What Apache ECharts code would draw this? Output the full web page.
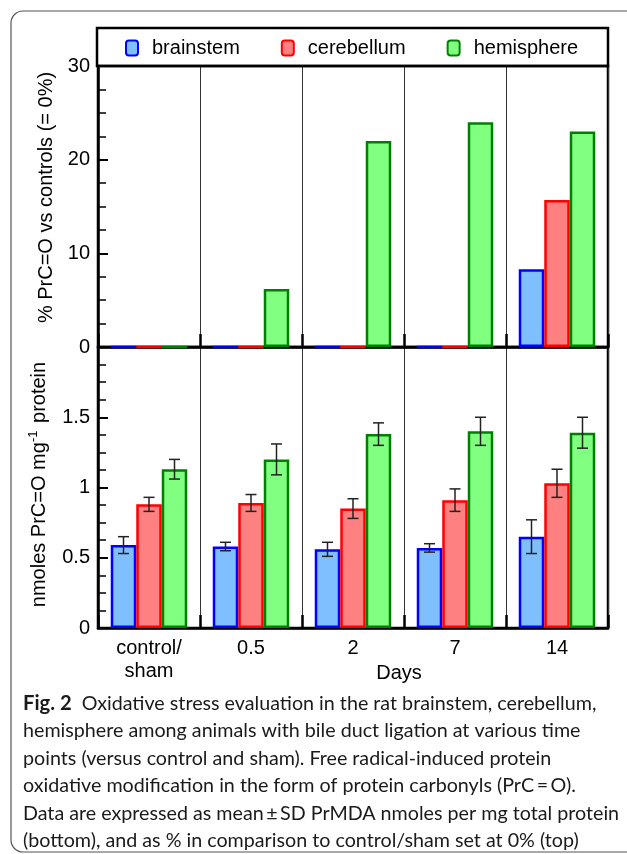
<!DOCTYPE html>
<html>
<head>
<meta charset="utf-8">
<script src="https://cdn.jsdelivr.net/npm/echarts@6/dist/echarts.min.js"></script>
<style>html,body{margin:0;padding:0;background:#fff;}#c{width:627px;height:854px;}</style>
</head>
<body>
<div id="c"></div>
<script>
// ---- data ----
var categories = ['control/\nsham', '0.5', '2', '7', '14'];
var seriesNames = ['brainstem', 'cerebellum', 'hemisphere'];
// top panel: % vs controls
var pctBrainstem  = [0, 0, 0, 0, 8.3];
var pctCerebellum = [0, 0, 0, 0, 15.7];
var pctHemisphere = [0, 6.2, 22.0, 24.0, 23.0];
// bottom panel: nmoles PrC=O per mg protein (mean, SD)
var nmolBrainstem  = [0.59, 0.58, 0.56, 0.57, 0.65];
var nmolCerebellum = [0.88, 0.89, 0.85, 0.91, 1.03];
var nmolHemisphere = [1.13, 1.20, 1.38, 1.40, 1.39];
var sdBrainstem  = [0.06, 0.03, 0.05, 0.03, 0.12];
var sdCerebellum = [0.05, 0.06, 0.07, 0.08, 0.10];
var sdHemisphere = [0.07, 0.11, 0.08, 0.10, 0.11];
var topTicks = [0, 10, 20, 30];
var bottomTicks = [0, 0.5, 1, 1.5, 2];

var captionLines = [
  '{b|Fig. 2}  Oxidative stress evaluation in the rat brainstem, cerebellum,',
  'hemisphere among animals with bile duct ligation at various time',
  'points (versus control and sham). Free radical-induced protein',
  'oxidative modification in the form of protein carbonyls (PrC\u2009=\u2009O).',
  'Data are expressed as mean\u2009\u00b1\u2009SD PrMDA nmoles per mg total protein',
  '(bottom), and as % in comparison to control/sham set at 0% (top)'
];

// ---- styles ----
var FONT = 'Liberation Sans';
var CAPFONT = 'Lato';
var CAPSIZE = 19.7;
var fills = ['#80bfff', '#ff8080', '#80ff80'];
var borders = ['#0000ff', '#ff0000', '#008000'];

var chart = echarts.init(document.getElementById('c'), null, {renderer: 'canvas'});

function xAxisCfg(gi, showLabel) {
  return {
    type: 'category', gridIndex: gi, data: categories,
    axisLine: {show: true, lineStyle: {color: '#000', width: 2.5}},
    axisTick: {show: true, inside: true, length: 13, lineStyle: {color: '#000', width: 2.5}},
    axisLabel: {show: showLabel, fontSize: 20, color: '#000', fontFamily: FONT, margin: 9, lineHeight: 23},
    splitLine: {show: true, lineStyle: {color: '#333', width: 1}}
  };
}
function yAxisCfg(gi, ticks, name, nameStyle, showMax) {
  return {
    type: 'value', gridIndex: gi,
    min: ticks[0], max: ticks[ticks.length - 1], interval: ticks[1] - ticks[0],
    axisLine: {show: true, lineStyle: {color: '#000', width: 2.5}},
    axisTick: {show: true, inside: true, length: 10, lineStyle: {color: '#000', width: 2}},
    minorTick: {show: true, splitNumber: 4, length: 8, lineStyle: {color: '#000', width: 1.5}},
    splitLine: {show: false},
    axisLabel: {fontSize: 20, color: '#000', fontFamily: FONT, margin: 8, showMaxLabel: showMax},
    name: name, nameLocation: 'middle', nameGap: 34,
    nameTextStyle: nameStyle
  };
}

var pctData = [pctBrainstem, pctCerebellum, pctHemisphere];
var nmolData = [nmolBrainstem, nmolCerebellum, nmolHemisphere];
var sdData = [sdBrainstem, sdCerebellum, sdHemisphere];

var series = [];
for (var k = 0; k < 3; k++) {
  series.push({
    type: 'bar', name: seriesNames[k], barWidth: '25%', barGap: '0%',
    xAxisIndex: 0, yAxisIndex: 0, data: pctData[k],
    itemStyle: {color: fills[k], borderColor: borders[k], borderWidth: 2.5},
    emphasis: {disabled: true}
  });
}
for (var k2 = 0; k2 < 3; k2++) {
  series.push({
    type: 'bar', name: seriesNames[k2], barWidth: '25%', barGap: '0%',
    xAxisIndex: 1, yAxisIndex: 1, data: nmolData[k2],
    itemStyle: {color: fills[k2], borderColor: borders[k2], borderWidth: 2.5},
    emphasis: {disabled: true}
  });
}
// error bars
var errData = [];
for (var s = 0; s < 3; s++) {
  for (var i = 0; i < categories.length; i++) {
    errData.push([i, nmolData[s][i] - sdData[s][i], nmolData[s][i] + sdData[s][i], s]);
  }
}
series.push({
  type: 'custom', name: 'err', xAxisIndex: 1, yAxisIndex: 1, z: 5,
  data: errData, encode: {x: 0, y: [1, 2]}, silent: true,
  renderItem: function (params, api) {
    var cat = api.value(0);
    var band = api.size([1, 0])[0];
    var x = api.coord([cat, 0])[0] + (api.value(3) - 1) * band * 0.25;
    var yl = api.coord([cat, api.value(1)])[1];
    var yh = api.coord([cat, api.value(2)])[1];
    var cw = 5.5;
    var st = {stroke: '#222', lineWidth: 1.5, fill: null};
    return {type: 'group', children: [
      {type: 'line', shape: {x1: x, y1: yl, x2: x, y2: yh}, style: st},
      {type: 'line', shape: {x1: x - cw, y1: yl, x2: x + cw, y2: yl}, style: st},
      {type: 'line', shape: {x1: x - cw, y1: yh, x2: x + cw, y2: yh}, style: st}
    ]};
  }
});

var option = {
  animation: false,
  backgroundColor: '#fff',
  textStyle: {fontFamily: FONT},
  legend: {
    data: seriesNames, left: 120, top: 33, padding: 5,
    itemWidth: 12, itemHeight: 15, itemGap: 41, icon: 'roundRect',
    textStyle: {fontSize: 20, color: '#000', fontFamily: FONT, padding: [0, 0, 0, 9]},
    selectedMode: false
  },
  grid: [
    {left: 98, top: 66, width: 510, height: 281, show: true, borderColor: '#000', borderWidth: 2.5, backgroundColor: 'transparent'},
    {left: 98, top: 347, width: 510, height: 281, show: true, borderColor: '#000', borderWidth: 2.5, backgroundColor: 'transparent'}
  ],
  xAxis: [xAxisCfg(0, false), xAxisCfg(1, true)],
  yAxis: [
    yAxisCfg(0, topTicks, '% PrC=O vs controls (= 0%)',
      {fontSize: 20, color: '#000', fontFamily: FONT, padding: [0, 0, 0, 18]}, true),
    yAxisCfg(1, bottomTicks, 'nmoles PrC=O mg{sup|-1} protein',
      {fontSize: 20, color: '#000', fontFamily: FONT, lineHeight: 24, padding: [0, 0, 0, 6],
       rich: {sup: {fontSize: 13, fontFamily: FONT, color: '#000', lineHeight: 24, verticalAlign: 'top', padding: [0, 2, 10, 0]}}}, false)
  ],
  graphic: [
    {type: 'rect', silent: true, z: -10,
     shape: {x: 11, y: 11, width: 640, height: 841, r: 12},
     style: {fill: null, stroke: '#555', lineWidth: 1.2}},
    {type: 'rect', silent: true, z: 10,
     shape: {x: 97, y: 28, width: 511, height: 38},
     style: {fill: null, stroke: '#000', lineWidth: 2.5}},
    {type: 'text', silent: true, z: 10, x: 399, y: 673,
     style: {text: 'Days', fontSize: 20, fontFamily: FONT, fill: '#000', align: 'center', verticalAlign: 'middle'}},
    {type: 'text', silent: true, z: 10, x: 23, y: 690,
     style: {text: captionLines.join('\n'), fontSize: CAPSIZE, fontFamily: CAPFONT, fill: '#1a1a1a',
       lineHeight: 27.4, align: 'left', verticalAlign: 'top',
       rich: {b: {fontWeight: 'bold', fontSize: CAPSIZE + 0.5, fontFamily: CAPFONT, fill: '#1a1a1a', lineHeight: 27.4}}}}
  ],
  series: series
};
chart.setOption(option);
</script>
</body>
</html>
